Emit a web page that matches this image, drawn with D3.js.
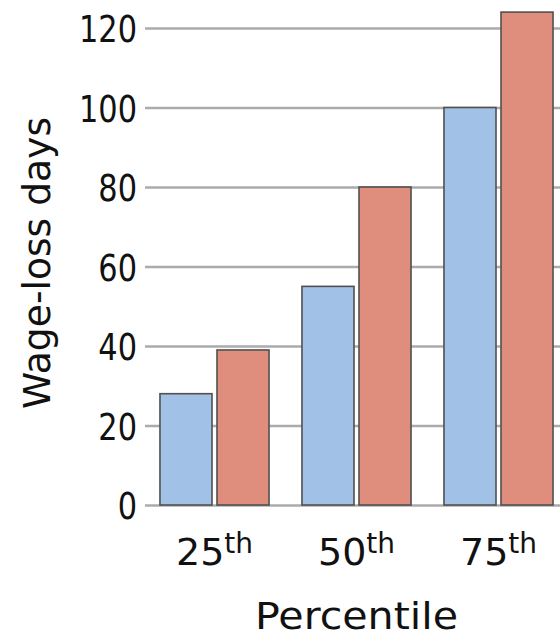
<!DOCTYPE html>
<html>
<head>
<meta charset="utf-8">
<script src="https://cdn.jsdelivr.net/npm/d3@7"></script>
<style>
  html, body { margin: 0; padding: 0; background: #fff; }
  svg { display: block; }
  text { font-family: "DejaVu Sans", sans-serif; fill: #111; }
</style>
</head>
<body>
<svg id="chart" width="560" height="638"></svg>
<script>
const categories = ["25", "50", "75"];
const categorySuffix = "th";
const seriesNames = ["A", "B"];
const seriesA = [28, 55, 100];
const seriesB = [39, 80, 124];
const yTicks = [0, 20, 40, 60, 80, 100, 120];
const yLabel = "Wage-loss days";
const xLabel = "Percentile";
const colors = ["#a2c1e7", "#df8e7d"];

const svg = d3.select("#chart");

const x = d3.scaleBand().domain(categories).range([143.5, 569.5])
  .paddingInner(0.232).paddingOuter(0.116);
const xs = d3.scaleBand().domain(seriesNames).range([0, x.bandwidth()])
  .paddingInner(0.0877).paddingOuter(0);
const y = d3.scaleLinear().domain([0, 120]).range([505, 28]);
const color = d3.scaleOrdinal().domain(seriesNames).range(colors);

// gridlines via axis
const grid = svg.append("g")
  .attr("transform", "translate(145,0)")
  .call(d3.axisRight(y).tickValues(yTicks).tickSize(420).tickFormat(""));
grid.select(".domain").remove();
grid.selectAll(".tick line").attr("stroke", "#ababab").attr("stroke-width", 2.5);

// y tick labels via axis
const yAxis = svg.append("g")
  .attr("transform", "translate(137,0)")
  .call(d3.axisLeft(y).tickValues(yTicks).tickSize(0).tickPadding(0));
yAxis.select(".domain").remove();
yAxis.selectAll(".tick text")
  .attr("font-size", 38)
  .attr("font-family", "DejaVu Sans")
  .attr("fill", "#111")
  .attr("dy", "0.36em")
  .each(function() {
    const len = this.getComputedTextLength();
    d3.select(this).attr("textLength", len * 0.8).attr("lengthAdjust", "spacingAndGlyphs");
  });

// bars
const rows = categories.map((c, i) => ({ cat: c, vals: [
  { key: "A", v: seriesA[i] }, { key: "B", v: seriesB[i] }] }));

const groups = svg.append("g").selectAll("g").data(rows).join("g")
  .attr("transform", d => `translate(${x(d.cat)},0)`);
groups.selectAll("rect").data(d => d.vals).join("rect")
  .attr("x", d => xs(d.key))
  .attr("width", xs.bandwidth())
  .attr("y", d => y(d.v))
  .attr("height", d => y(0) - y(d.v))
  .attr("fill", d => color(d.key))
  .attr("stroke", "#505050")
  .attr("stroke-width", 1.6);

// x tick labels
const xt = svg.append("g").selectAll("text").data(categories).join("text")
  .attr("x", d => x(d) + x.bandwidth() / 2)
  .attr("y", 565)
  .attr("text-anchor", "middle")
  .attr("font-size", 38);
xt.append("tspan").text(d => d);
xt.append("tspan").attr("dy", -12).attr("font-size", 28).text(categorySuffix);

// axis titles
svg.append("text")
  .attr("x", 356.5).attr("y", 629)
  .attr("text-anchor", "middle")
  .attr("font-size", 38)
  .attr("textLength", 203)
  .attr("lengthAdjust", "spacingAndGlyphs")
  .text(xLabel);

svg.append("text")
  .attr("transform", "translate(50,263) rotate(-90)")
  .attr("text-anchor", "middle")
  .attr("font-size", 37)
  .attr("textLength", 292)
  .attr("lengthAdjust", "spacingAndGlyphs")
  .text(yLabel);
</script>
</body>
</html>
